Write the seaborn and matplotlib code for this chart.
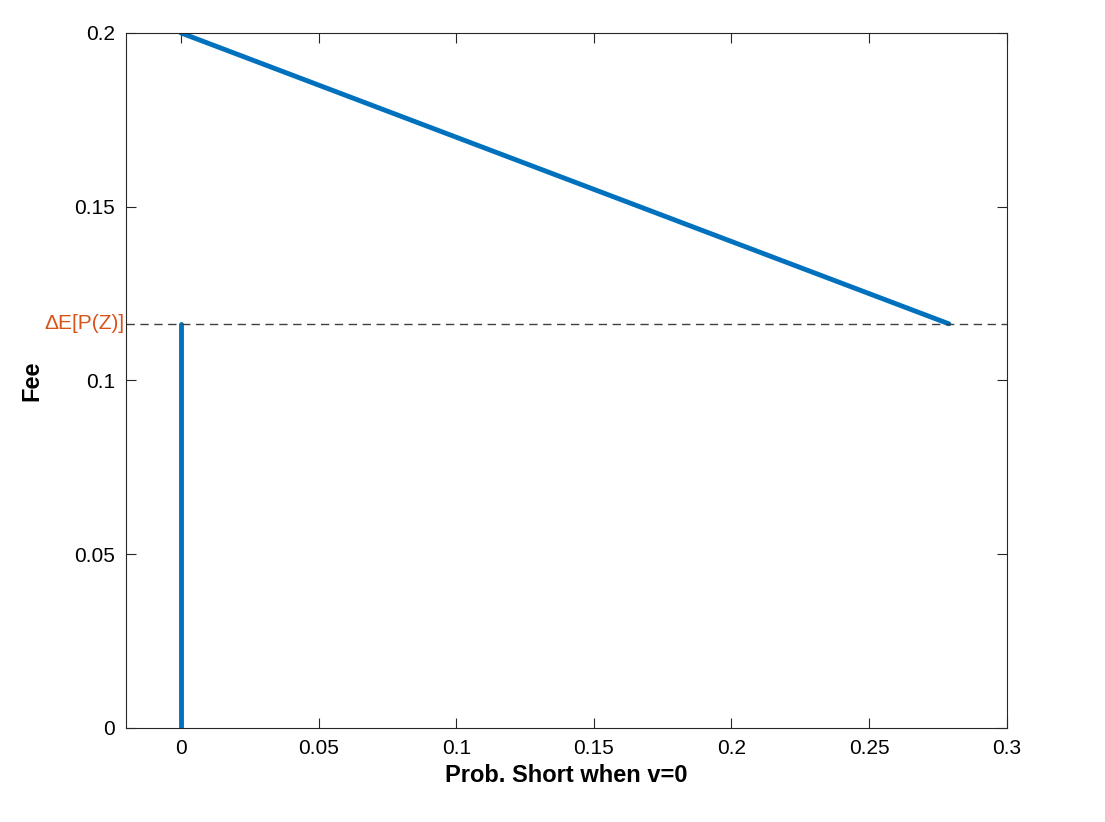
import matplotlib
matplotlib.use("Agg")
import matplotlib.pyplot as plt
import seaborn as sns
import numpy as np

sns.set_style("white")
plt.rcParams['font.family'] = ['Liberation Sans', 'DejaVu Sans']

line_x = [0.0, 0.279]
line_y = [0.2, 0.1163]
vert_x = [0.0, 0.0]
vert_y = [0.0, 0.1163]
threshold = 0.1163
xticks = [0, 0.05, 0.1, 0.15, 0.2, 0.25, 0.3]
yticks = [0, 0.05, 0.1, 0.15, 0.2]

fig = plt.figure(figsize=(11.05, 8.22), dpi=100)
ax = fig.add_axes([0.114, 0.1144, 0.797, 0.8455])
blue = '#0072BD'
sns.lineplot(x=line_x, y=line_y, ax=ax, color=blue, lw=3.5)
sns.lineplot(x=vert_x, y=vert_y, ax=ax, color=blue, lw=3.5, estimator=None, sort=False)
ax.axhline(threshold, color='#404040', lw=1, ls=(0, (6, 4)))
ax.set_xlim(-0.02, 0.3)
ax.set_ylim(0, 0.2)
ax.set_xticks(xticks)
ax.set_xticklabels([f"{t:g}" for t in xticks])
ax.set_yticks(yticks)
ax.set_yticklabels([f"{t:g}" for t in yticks])
ax.tick_params(direction='in', length=7, labelsize=15, top=True, right=True,
               bottom=True, left=True, color='#262626', labelcolor='black', pad=8)
for s in ax.spines.values():
    s.set_color('#262626'); s.set_linewidth(0.8)
ax.text(-0.0205, threshold, 'ΔE[P(Z)]', color='#D95319', fontsize=15, ha='right', va='center')
ax.set_xlabel('Prob. Short when v=0', fontsize=17, fontweight='bold', color='black')
ax.set_ylabel('Fee', fontsize=17, fontweight='bold', labelpad=22, color='black')
fig.savefig('out.png', dpi=100)
